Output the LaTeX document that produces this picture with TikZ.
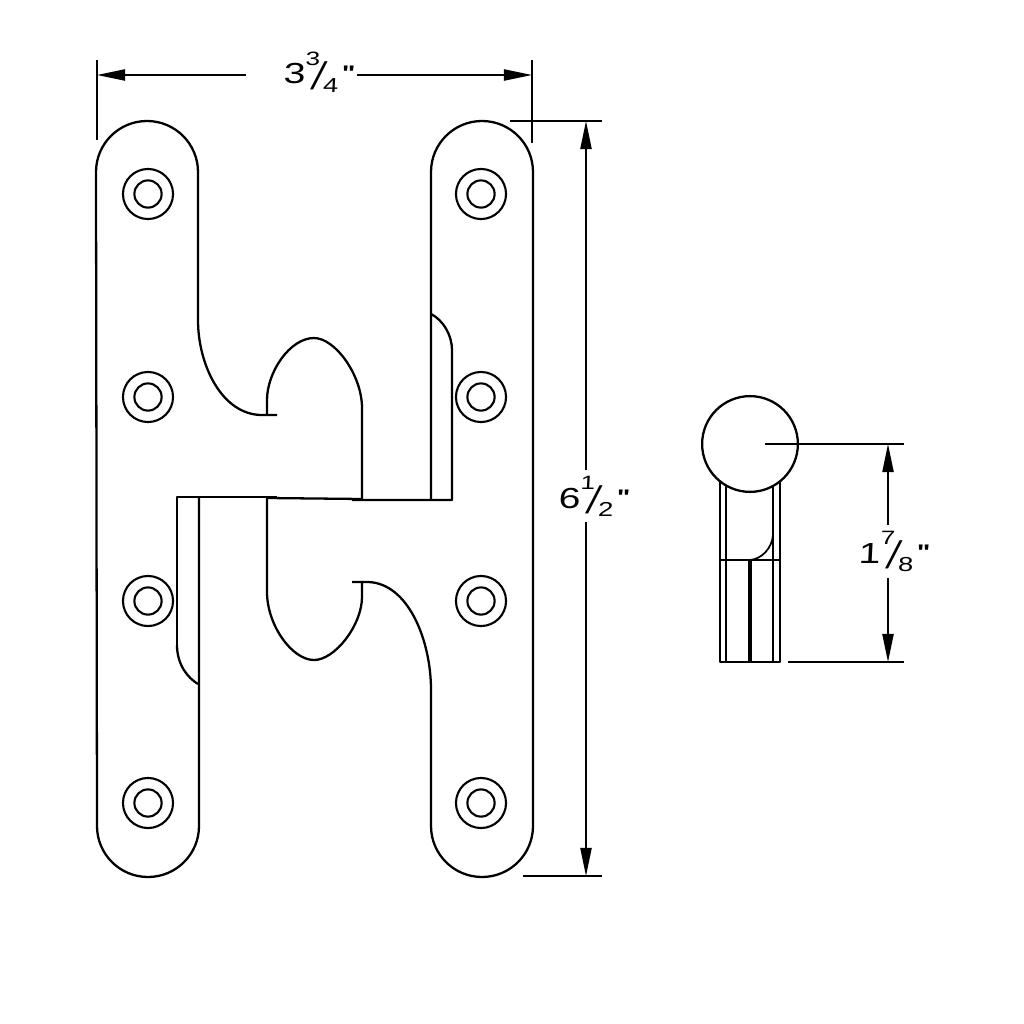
\documentclass[tikz,border=0pt]{standalone}
\usepackage{fontspec}
\usepackage{graphicx}
\usetikzlibrary{arrows.meta}
\newfontfamily\dimfont[FakeSlant=0.05,FakeStretch=1.35]{Liberation Sans}
\newfontfamily\slashfont{Liberation Serif}
\newcommand{\dimfrac}[3]{{\dimfont
  \rlap{\fontsize{16.5}{16.5}\selectfont #1}%
  \rlap{\hspace{12.5pt}\raisebox{10.5pt}{\fontsize{11}{11}\selectfont #2}}%
  \rlap{\hspace{15.5pt}\raisebox{-3pt}{\scalebox{1.5}[1]{\slashfont\fontsize{24}{24}\selectfont /}}}%
  \rlap{\hspace{22.5pt}\raisebox{-5pt}{\fontsize{11.5}{11.5}\selectfont #3}}%
  \hspace{33pt}\raisebox{2pt}{\fontsize{12}{12}\selectfont\bfseries "}}}
\tikzset{
  x=0.02cm,y=-0.02cm,
  part/.style={line width=1.3pt,black,line join=round},
  thin part/.style={line width=1pt,black},
  dim/.style={line width=0.85pt,black},
  dimarrow/.style={dim,-{Triangle[length=16pt,width=6.4pt]}},
  dimtext/.style={inner sep=0pt,anchor=base west},
  screw/.style={circle,draw,line width=1.2pt,inner sep=0pt,minimum size=#1}
}
\begin{document}
\begin{tikzpicture}
\fill[white] (0,0) rectangle (1024,1024);
\useasboundingbox (0,0) rectangle (1024,1024);
% top leaf (left plate)
\draw[part] (277,415) -- (262,415) .. controls (222,415) and (198,365) .. (198,320) -- (198,172)
  arc[start angle=0,end angle=-180,radius=51] -- (97,826)
  arc[start angle=180,end angle=0,radius=51] -- (199,497);
\draw[part] (267,415) -- (267,400) .. controls (267,372) and (290,338) .. (314,338)
  .. controls (335,338) and (362,375) .. (362,408) -- (362,499);
\draw[part] (177,645) -- (177,497) -- (277,497);
\draw[part] (267,498) -- (362,499);
\draw[part] (177,645) .. controls (177,665) and (188,678) .. (198,684);
% right plate
\draw[part] (352,582) -- (368,582) .. controls (408,583) and (431,640) .. (431,690) -- (431,826)
  arc[start angle=180,end angle=0,radius=51] -- (533,172)
  arc[start angle=0,end angle=-180,radius=51] -- (431,500);
\draw[part] (362,582) -- (362,597) .. controls (362,625) and (335,660) .. (314,660)
  .. controls (292,660) and (267,625) .. (267,592) -- (267,497);
\draw[part] (352,500) -- (452,500) -- (452,350) .. controls (452,335) and (443,320) .. (431,314);
% screws
\foreach \n/\px/\py in {a/148/194,b/148/397,c/148/601,d/148/803,e/481/194,f/481/397,g/481/601,h/481/803}{
  \node[screw=28.5pt] (outer\n) at (\px,\py) {};
  \node[screw=15.5pt] (inner\n) at (\px,\py) {};
}
% overall width
\coordinate (wl) at (97,75); \coordinate (wr) at (532,75);
\coordinate (wgl) at (246,75); \coordinate (wgr) at (357,75);
\draw[dim] (97,60) -- (97,140);
\draw[dim] (532,60) -- (532,143);
\draw[dimarrow] (wgl) -- (wl);
\draw[dimarrow] (wgr) -- (wr);
\node[dimtext] (wlabel) at (283,84) {\dimfrac{3}{3}{4}};
% overall height
\coordinate (ht) at (586,121); \coordinate (hb) at (586,876);
\coordinate (hgt) at (586,470); \coordinate (hgb) at (586,522);
\draw[dim] (510,121) -- (602,121);
\draw[dim] (523,876) -- (602,876);
\draw[dimarrow] (hgt) -- (ht);
\draw[dimarrow] (hgb) -- (hb);
\node[dimtext] (hlabel) at (558,508) {\dimfrac{6}{1}{2}};
% side view
\draw[part] (720,480) -- (720,662) -- (780,662) -- (780,480);
\draw[thin part] (726,485) -- (726,662);
\draw[thin part] (773,485) -- (773,535) .. controls (772,548) and (762,559) .. (750,560);
\draw[thin part] (773,535) -- (773,662);
\draw[part] (720,560) -- (780,560);
\draw[line width=2.4pt] (750,560) -- (750,662);
\node[circle,draw,fill=white,line width=1.3pt,inner sep=0pt,minimum size=54.5pt] (ball) at (750,444) {};
% side dimension
\coordinate (st) at (888,444); \coordinate (sb) at (888,662);
\coordinate (sgt) at (888,525); \coordinate (sgb) at (888,578);
\draw[dim] (765,444) -- (904,444);
\draw[dim] (788,662) -- (904,662);
\draw[dimarrow] (sgt) -- (st);
\draw[dimarrow] (sgb) -- (sb);
\node[dimtext] (slabel) at (858,563) {\dimfrac{1}{7}{8}};
\end{tikzpicture}
\end{document}
